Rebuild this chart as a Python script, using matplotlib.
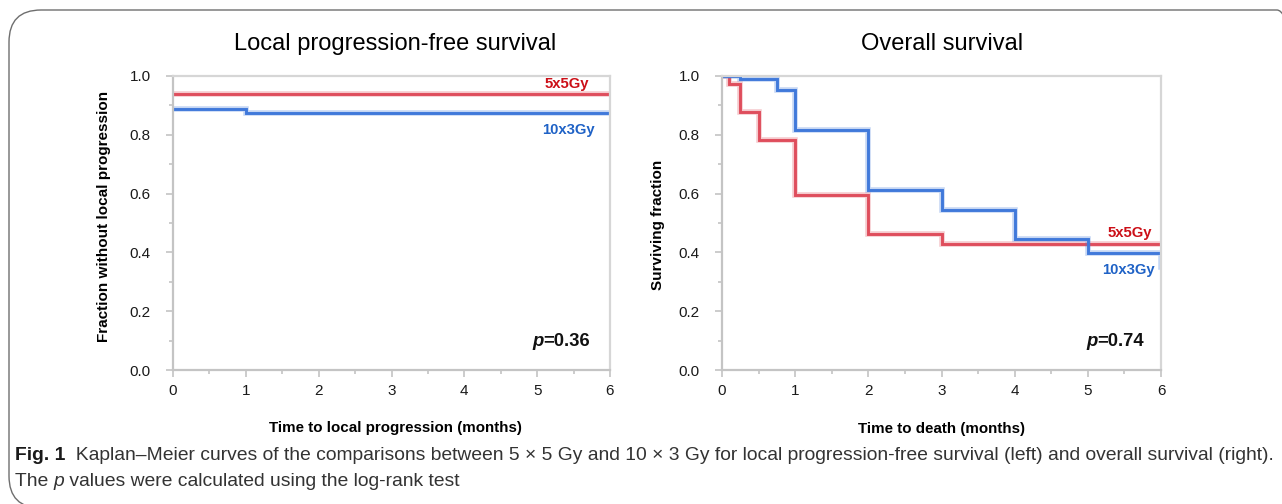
import matplotlib.pyplot as plt
from matplotlib.patches import FancyBboxPatch
from matplotlib.ticker import MultipleLocator

# Kaplan-Meier step data
lpfs_t_5x5 = [0, 6]
lpfs_s_5x5 = [0.94, 0.94]
lpfs_t_10x3 = [0, 1, 6]
lpfs_s_10x3 = [0.887, 0.873, 0.873]

os_t_5x5 = [0, 0.1, 0.25, 0.5, 1, 2, 3, 6]
os_s_5x5 = [1.0, 0.972, 0.879, 0.782, 0.594, 0.462, 0.428, 0.428]
os_t_10x3 = [0, 0.25, 0.75, 1, 2, 3, 4, 5, 6]
os_s_10x3 = [1.0, 0.989, 0.953, 0.816, 0.611, 0.543, 0.445, 0.397, 0.349]

titles = ['Local progression-free survival', 'Overall survival']
ylabels = ['Fraction without local progression', 'Surviving fraction']
xlabels = ['Time to local progression (months)', 'Time to death (months)']
pvals = ['0.36', '0.74']

plt.rcParams['font.family'] = ['Liberation Sans', 'DejaVu Sans']

W, H = 1282, 504
fig = plt.figure(figsize=(W / 100, H / 100), dpi=100)
renderer = fig.canvas.get_renderer()

# rounded frame around the figure
box = FancyBboxPatch((9 / W, 1 - 508 / H), 1300 / W, 498 / H,
                     boxstyle='round,pad=0,rounding_size=0.025',
                     transform=fig.transFigure, fill=False,
                     edgecolor='#6e6e6e', linewidth=1.0, mutation_aspect=W / H)
fig.patches.append(box)

red_line = '#df4d5c'
blue_line = '#4079da'
red_txt = '#cc1018'
blue_txt = '#1f62c6'


def px(x0, y0, x1, y1):
    return [x0 / W, 1 - y1 / H, (x1 - x0) / W, (y1 - y0) / H]


def width_px(t):
    return t.get_window_extent(renderer).width


def put_row(x, y, parts, **kw):
    # place text pieces one after another, starting at pixel x
    for s, extra in parts:
        t = fig.text(x / W, 1 - y / H, s, ha='left', va='center', **kw, **extra)
        x += width_px(t)
    return x


ax1 = fig.add_axes(px(173, 76, 610, 370))
ax2 = fig.add_axes(px(722, 76, 1161, 370))


def km(ax, t, s, color):
    ax.plot(t, s, drawstyle='steps-post', color=color, lw=4.0, alpha=0.3,
            solid_joinstyle='miter')
    ax.plot(t, s, drawstyle='steps-post', color=color, lw=2.1,
            solid_joinstyle='miter')


km(ax1, lpfs_t_5x5, lpfs_s_5x5, red_line)
km(ax1, lpfs_t_10x3, lpfs_s_10x3, blue_line)
km(ax2, os_t_5x5, os_s_5x5, red_line)
km(ax2, os_t_10x3, os_s_10x3, blue_line)

for i, ax in enumerate([ax1, ax2]):
    ax.set_xlim(0, 6)
    ax.set_ylim(0, 1)
    ax.xaxis.set_major_locator(MultipleLocator(1))
    ax.xaxis.set_minor_locator(MultipleLocator(0.5))
    ax.yaxis.set_major_locator(MultipleLocator(0.2))
    ax.yaxis.set_minor_locator(MultipleLocator(0.1))
    ax.set_yticklabels(['%.1f' % v for v in ax.get_yticks()])
    for side in ['left', 'bottom']:
        ax.spines[side].set_color('#c4c4c4')
        ax.spines[side].set_linewidth(1.6)
    for side in ['top', 'right']:
        ax.spines[side].set_color('#d6d6d6')
        ax.spines[side].set_linewidth(1.6)
    ax.tick_params(which='major', direction='out', length=5, width=1.2,
                   color='#c4c4c4', labelsize=11, labelcolor='#1a1a1a')
    ax.tick_params(which='minor', direction='out', length=3, width=1.2,
                   color='#c4c4c4')
    ax.tick_params(axis='y', pad=11)
    ax.tick_params(axis='x', pad=5)

fig.text(104 / W, 1 - 216 / H, ylabels[0], rotation=90, ha='center', va='center',
         fontsize=11, fontweight='bold')
fig.text(658 / W, 1 - 225 / H, ylabels[1], rotation=90, ha='center', va='center',
         fontsize=11, fontweight='bold')

fig.text(395 / W, 1 - 44 / H, titles[0], ha='center', va='center', fontsize=17)
fig.text(942 / W, 1 - 44 / H, titles[1], ha='center', va='center', fontsize=17)
fig.text(395 / W, 1 - 428 / H, xlabels[0], ha='center', va='center',
         fontsize=10.9, fontweight='bold')
fig.text(942 / W, 1 - 429 / H, xlabels[1], ha='center', va='center',
         fontsize=10.9, fontweight='bold')

# curve labels
fig.text(589 / W, 1 - 84 / H, '5x5Gy', ha='right', va='center', fontsize=10.7,
         fontweight='bold', color=red_txt)
fig.text(595 / W, 1 - 130 / H, '10x3Gy', ha='right', va='center', fontsize=10.7,
         fontweight='bold', color=blue_txt)
fig.text(1152 / W, 1 - 233 / H, '5x5Gy', ha='right', va='center', fontsize=10.7,
         fontweight='bold', color=red_txt)
fig.text(1155 / W, 1 - 270 / H, '10x3Gy', ha='right', va='center', fontsize=10.7,
         fontweight='bold', color=blue_txt)

# p values: italic bold p followed by bold value
put_row(532, 342, [('p', {'style': 'italic'}), ('=' + pvals[0], {})],
        fontsize=13.3, fontweight='bold', color='#111111')
put_row(1086, 342, [('p', {'style': 'italic'}), ('=' + pvals[1], {})],
        fontsize=13.3, fontweight='bold', color='#111111')

# caption
put_row(15, 456, [('Fig. 1', {'fontweight': 'bold', 'color': '#1a1a1a'}),
                  ('  Kaplan\u2013Meier curves of the comparisons between 5 \u00d7 5 Gy '
                   'and 10 \u00d7 3 Gy for local progression-free survival (left) and '
                   'overall survival (right).', {'color': '#333333'})],
        fontsize=13.85)
put_row(15, 481, [('The ', {}), ('p', {'style': 'italic'}),
                  (' values were calculated using the log-rank test', {})],
        fontsize=13.85, color='#333333')

fig.savefig('out.png', dpi=100)
